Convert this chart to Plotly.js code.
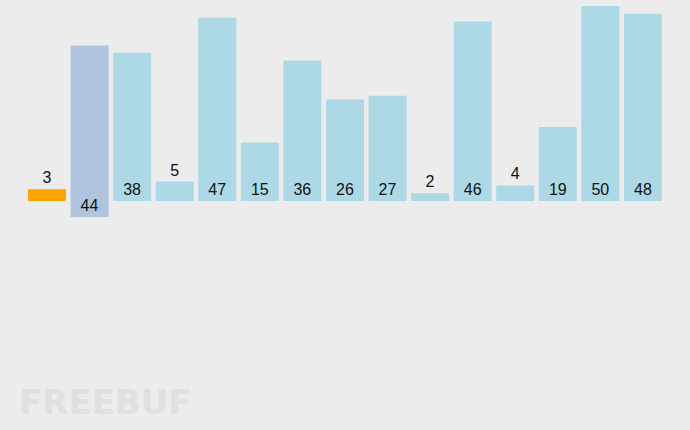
<!DOCTYPE html>
<html>
<head>
<meta charset="utf-8">
<script src="https://cdn.plot.ly/plotly-3.0.1.min.js"></script>
<style>html,body{margin:0;padding:0;background:#ececec;}#chart{width:690px;height:430px;}</style>
</head>
<body>
<div id="chart"></div>
<script>
// Data
const categories = ['1','2','3','4','5','6','7','8','9','10','11','12','13','14','15'];
const values = [3, 44, 38, 5, 47, 15, 36, 26, 27, 2, 46, 4, 19, 50, 48];
const states = ['current','compare','idle','idle','idle','idle','idle','idle','idle','idle','idle','idle','idle','idle','idle'];

const stateColor = {current:'#ffa500', compare:'#b0c4de', idle:'#add8e6'};
const stateShift = {current:0, compare:-4.1, idle:0};

const trace = {
  type:'bar',
  x: categories,
  y: values,
  base: states.map(s => stateShift[s]),
  marker:{color: states.map(s => stateColor[s]), line:{width:0}},
  text: values.map(String),
  textposition: values.map(v => v < 10 ? 'outside' : 'inside'),
  insidetextanchor:'start',
  constraintext:'none',
  cliponaxis:false,
  textfont:{family:'Liberation Sans, Arial, sans-serif', size:16, color:'#111'},
  hoverinfo:'none'
};

const layout = {
  width:690, height:430,
  margin:{l:0,r:0,t:0,b:0},
  paper_bgcolor:'#ececec', plot_bgcolor:'#ececec',
  bargap:0.107,
  showlegend:false,
  xaxis:{type:'category', range:[-1.104, 15.105], visible:false, fixedrange:true},
  yaxis:{range:[-58.72, 51.54], visible:false, fixedrange:true},
  annotations:[{
    text:'<b>FREEBUF</b>', xref:'paper', yref:'paper', x:0.025, y:0.015,
    xanchor:'left', yanchor:'bottom', showarrow:false,
    font:{family:'DejaVu Sans, sans-serif', size:34, color:'#e0e0e0'}
  }]
};

Plotly.newPlot('chart',[trace],layout,{staticPlot:true,displayModeBar:false});
</script>
</body>
</html>
